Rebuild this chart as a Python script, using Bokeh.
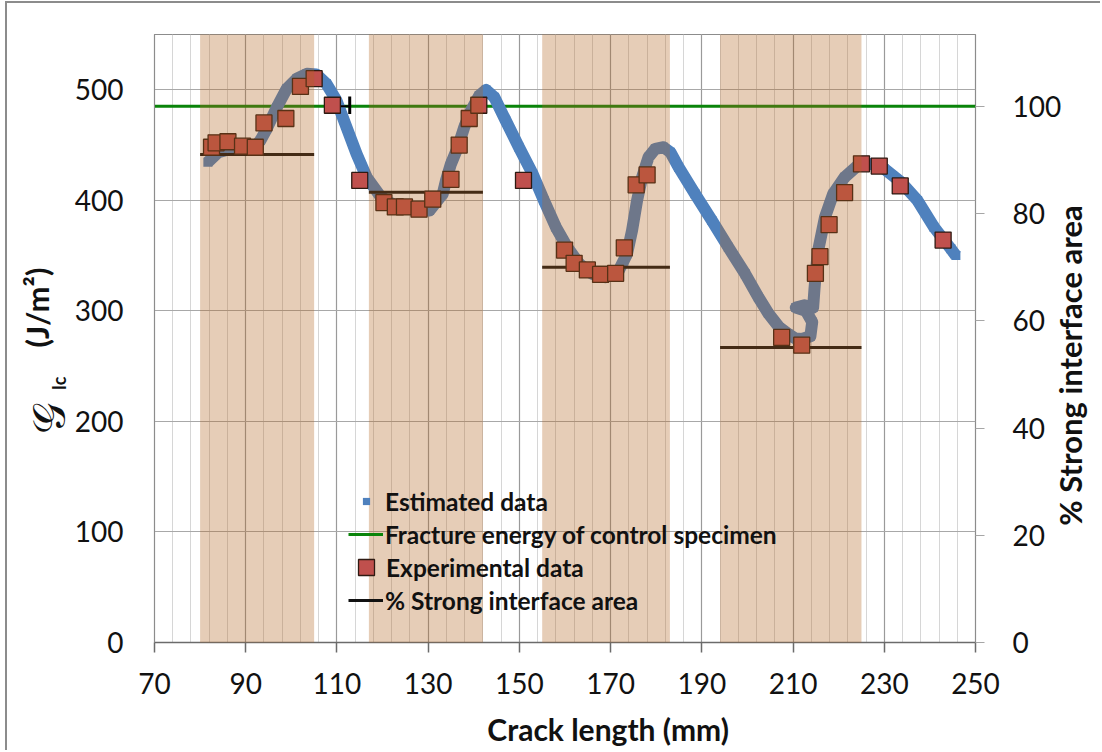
import math
from bokeh.plotting import figure
from bokeh.models import (Range1d, LinearAxis, FixedTicker, Legend, LegendItem, Label)
from bokeh.embed import file_html
from bokeh.resources import INLINE

# ---- data ----------------------------------------------------------------
# axis extents
x_lo, x_hi = 70, 250          # crack length (mm)
g_lo, g_hi = 0, 550           # G_Ic (J/m^2)

# fracture energy of the control specimen (J/m^2); 100 % on the right axis
control_energy = 485
control_bar_x = 112.8
control_bar_lo = 478
control_bar_hi = 494

# estimated G_Ic along the crack path
est_x = [81.7, 84.0, 87.0, 90.0, 92.0, 93.2, 94.6, 96.8, 99.0, 101.2, 103.4, 105.5,
         107.7, 109.9, 112.1, 114.3, 116.5, 119.4, 121.5, 123.0, 126.6, 130.3, 133.2,
         133.9, 135.0, 136.5, 137.9, 139.4, 141.2, 142.7, 144.5, 147.0, 149.9, 152.9,
         155.4, 158.0, 160.5, 163.1, 166.0, 168.9, 171.8, 173.6, 174.7, 175.8, 176.9,
         178.3, 179.8, 181.6, 183.1, 184.9, 188.5, 192.2, 195.8, 199.5, 202.4, 204.6,
         207.0, 208.9, 210.5, 212.0, 213.8, 214.2, 212.8, 210.6, 212.5, 214.4, 214.7,
         215.1, 215.5, 217.0, 218.8, 221.3, 224.2, 227.1, 230.0, 233.7, 237.3, 240.9,
         244.6, 245.7]
est_g = [434.5, 443.5, 447.0, 448.0, 448.5, 454.0, 464.7, 484.0, 501.0, 510.0, 514.4, 513.8,
         505.4, 490.3, 466.1, 442.0, 420.9, 404.3, 398.0, 395.3, 392.3, 390.8, 405.9,
         417.9, 433.0, 448.0, 466.1, 481.2, 494.8, 499.9, 493.3, 472.2, 448.0, 424.0,
         399.8, 375.7, 357.6, 342.6, 333.5, 330.5, 336.5, 351.6, 372.7, 399.8, 420.9,
         439.0, 446.6, 448.0, 443.5, 430.0, 405.9, 381.7, 357.6, 333.5, 312.3, 297.6,
         285.0, 279.2, 275.0, 274.5, 277.0, 290.0, 300.0, 303.0, 305.0, 303.0, 320.0,
         339.5, 354.6, 384.7, 405.9, 420.9, 431.5, 433.0, 428.5, 416.4, 399.8, 375.7,
         356.1, 350.0]

# measured G_Ic
exp_x = [82.5, 83.5, 86.1, 89.3, 92.1, 94.0, 98.8, 102.0, 105.0, 109.0, 115.0,
         120.3, 122.8, 124.8, 128.0, 131.0, 135.0, 136.8, 139.0, 141.1, 150.9,
         159.9, 162.0, 164.9, 167.8, 171.1, 173.0, 175.6, 178.0,
         207.5, 211.9, 214.9, 215.9, 217.9, 221.3, 225.0, 228.9, 233.5, 242.9]
exp_g = [448, 452, 453, 449, 448, 470, 474, 503, 510, 486, 418,
         398, 394, 394, 392, 401, 419, 450, 474, 486, 418,
         355, 343, 337, 333, 334, 357, 414, 423,
         276, 269, 334, 349, 378, 407, 433, 431, 413, 364]

# zones with a strong interface and their share of the interface area (%)
strong_start = [80, 117, 155, 194]
strong_end = [105, 142, 183, 225]
strong_pct = [91, 84, 70, 55]

x_major = list(range(70, 251, 20))
x_minor = list(range(70, 251, 4))
g_ticks = [0, 100, 200, 300, 400, 500]
pct_ticks = [0, 20, 40, 60, 80, 100]

# ---- styling -------------------------------------------------------------
FONT = "Lato"
BLUE = "#4F81BD"
RED = "#C0504D"
GREEN = "#0A840A"
BAND = (178, 100, 30)
EM, EN, THIN = "\u2003", "\u2002", "\u2009"

W, H = 1095, 749
p = figure(width=W, height=H,
           x_range=Range1d(x_lo, x_hi), y_range=Range1d(g_lo, g_hi),
           output_backend="svg", toolbar_location=None,
           min_border_left=147, min_border_right=124,
           min_border_top=31, min_border_bottom=110)
p.styles = {"margin-left": "5px", "margin-top": "1px",
            "border-left": "2px solid #8c8c8c", "border-top": "2px solid #8c8c8c"}
p.background_fill_color = "white"
p.border_fill_color = "white"
p.outline_line_color = "#8c8c8c"
p.outline_line_width = 1.2

p.extra_y_ranges = {"pct": Range1d(0, g_hi / control_energy * 100)}


def axis_text(ax, size, standoff):
    ax.major_label_text_font = FONT
    ax.major_label_text_font_size = size
    ax.major_label_text_color = "#111111"
    ax.major_label_standoff = standoff
    ax.minor_tick_out = 0
    ax.minor_tick_in = 0
    ax.major_tick_in = 0


def axis_title(ax, text, size, standoff, style="bold"):
    ax.axis_label = text
    ax.axis_label_text_font = FONT
    ax.axis_label_text_font_style = style
    ax.axis_label_text_font_size = size
    ax.axis_label_text_color = "#111111"
    ax.axis_label_standoff = standoff


def title_axis(text, size, standoff, style="bold"):
    ax = LinearAxis(ticker=FixedTicker(ticks=[]))
    ax.axis_line_color = None
    ax.major_tick_out = 0
    ax.major_tick_in = 0
    ax.minor_tick_out = 0
    ax.minor_tick_in = 0
    axis_title(ax, text, size, standoff, style)
    p.add_layout(ax, "left")


# x axis
xt = FixedTicker(ticks=x_major, minor_ticks=x_minor)
xa = p.xaxis[0]
xa.ticker = xt
xa.axis_line_color = "#6b6b6b"
xa.axis_line_width = 1.5
xa.major_tick_line_color = "#6b6b6b"
xa.major_tick_line_width = 1.5
xa.major_tick_out = 10
axis_text(xa, "28px", 20)
axis_title(xa, EM + EM + EN + EN + THIN * 3 + "Crack length (mm)", "30px", 14)

# left axis: tick labels, then the G_Ic symbol pieces stacked outward
ya = p.yaxis[0]
ya.ticker = FixedTicker(ticks=g_ticks)
ya.axis_line_color = "#8c8c8c"
ya.major_tick_out = 0
axis_text(ya, "28px", 31)
axis_title(ya, "Ic" + EM * 6 + EN, "18px", 2)
title_axis(EM + EM + EN + "(J/m\u00b2)", "31px", -11)
title_axis("\U0001D4A2" + EM * 4 + EN + THIN, "44px", -58, style="normal")

# right axis (% strong interface area)
ra = LinearAxis(y_range_name="pct", ticker=FixedTicker(ticks=pct_ticks))
ra.axis_line_color = None
ra.major_tick_line_color = "#a6a6a6"
ra.major_tick_line_width = 1.2
ra.major_tick_out = 9
axis_text(ra, "28px", 28)
p.add_layout(ra, "right")
p.add_layout(Label(x=5, y=277, x_units="screen", y_units="screen",
                   text="% Strong interface area", angle=math.pi / 2,
                   text_align="center", text_baseline="middle",
                   text_font=FONT, text_font_style="bold", text_font_size="31px",
                   text_color="#111111"), "right")

# grids
p.xgrid.ticker = xt
p.xgrid.grid_line_color = "#9a9a9a"
p.xgrid.grid_line_width = 1.2
p.xgrid.minor_grid_line_color = "#d6d6d6"
p.xgrid.minor_grid_line_width = 1.0
p.ygrid.ticker = FixedTicker(ticks=g_ticks)
p.ygrid.grid_line_color = "#a8a8a8"
p.ygrid.grid_line_width = 1.2

# ---- glyphs ----------------------------------------------------------------
r_ctrl = p.line([x_lo, x_hi], [control_energy, control_energy],
                line_color=GREEN, line_width=3)

r_est_pts = p.scatter(est_x, est_g, marker="square", size=9,
                      fill_color=BLUE, line_color=None)
p.line(est_x, est_g, line_color=BLUE, line_width=12, line_join="round")

r_pct = p.segment(x0=strong_start, x1=strong_end, y0=strong_pct, y1=strong_pct,
                  y_range_name="pct", line_color="#111111", line_width=3)

# spread of the control specimen value
p.segment(x0=[exp_x[9]], x1=[control_bar_x], y0=[control_energy], y1=[control_energy],
          line_color="black", line_width=2)
p.segment(x0=[control_bar_x], x1=[control_bar_x], y0=[control_bar_lo], y1=[control_bar_hi],
          line_color="black", line_width=3)

r_exp = p.scatter(exp_x, exp_g, marker="square", size=16,
                  fill_color=RED, line_color="#2e1a12", line_width=1.3)

# ---- legend (one block per row so each swatch keeps its own size) ---------
def add_legend(label, renderer, vx, vy, gw, gh, standoff):
    leg = Legend(items=[LegendItem(label=label, renderers=[renderer])],
                 location=(vx, vy), orientation="vertical",
                 glyph_width=gw, glyph_height=gh, label_standoff=standoff,
                 label_height=30, padding=0, margin=0, spacing=0,
                 border_line_alpha=0, background_fill_alpha=0,
                 label_text_font=FONT, label_text_font_style="bold",
                 label_text_font_size="24.5px", label_text_color="#111111")
    p.add_layout(leg)

add_legend("Estimated data", r_est_pts, 203, 126, 18, 18, 10)
add_legend("Fracture energy of control specimen", r_ctrl, 194, 93, 35, 20, 2)
add_legend("Experimental data", r_exp, 192, 55, 40, 40, 0)
add_legend("% Strong interface area", r_pct, 194, 27, 35, 20, 2)

# ---- strong-interface zones, tinting everything beneath -------------------
p.quad(left=strong_start, right=strong_end, bottom=g_lo, top=g_hi,
       fill_color=BAND, fill_alpha=0.32, line_color=None, level="overlay")

open("out.html", "w").write(file_html(p, INLINE))
